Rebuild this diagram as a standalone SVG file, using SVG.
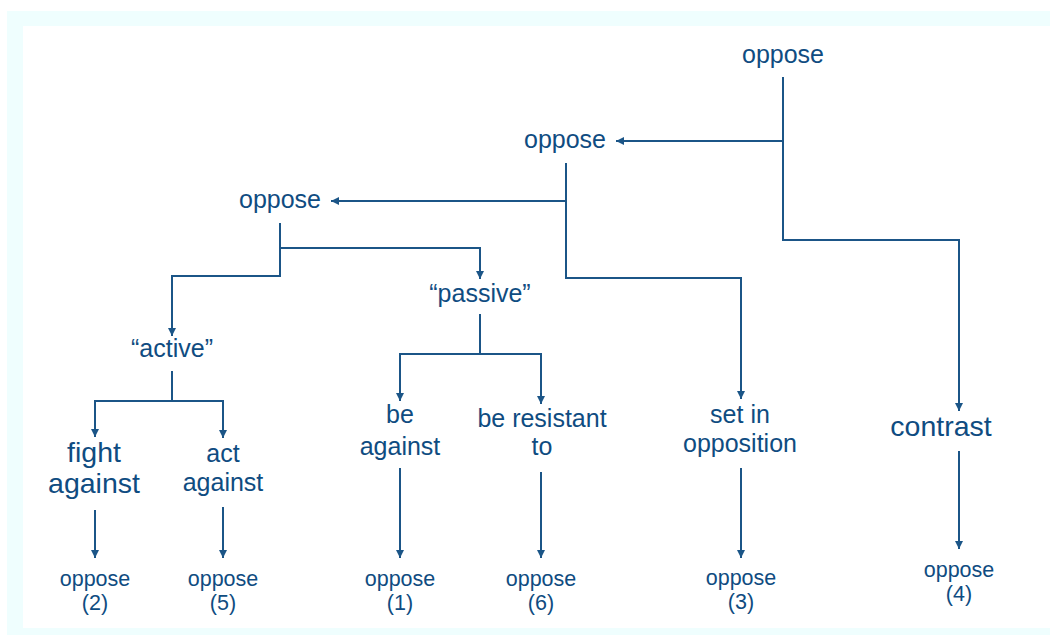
<svg xmlns="http://www.w3.org/2000/svg" width="1050" height="635" viewBox="0 0 1050 635">
  <style>
    .lbl { font-family: "Liberation Sans", Arial, sans-serif; fill: #0f4c81; text-anchor: middle; }
    .f25 { font-size: 25px; }
    .f28 { font-size: 28.5px; }
    .f21 { font-size: 21.5px; }
    .wire { fill: none; stroke: #1b5587; stroke-width: 2; }
  </style>
  <defs>
    <marker id="head" viewBox="0 0 10 10" refX="10" refY="5" markerUnits="userSpaceOnUse" markerWidth="9" markerHeight="8" orient="auto">
      <path d="M0,0 L10,5 L0,10 z" fill="#1b5587"/>
    </marker>
  </defs>

  <!-- frame -->
  <rect x="7" y="11" width="1043" height="624" fill="#effefe"/>
  <rect x="23" y="26" width="1027" height="602" fill="#ffffff"/>

  <!-- connectors -->
  <g id="connectors" class="wire">
    <path d="M783,77 V240 H959 V411" marker-end="url(#head)"/>
    <path d="M783,141 H616" marker-end="url(#head)"/>
    <path d="M566,163 V278 H741 V399" marker-end="url(#head)"/>
    <path d="M566,201 H331" marker-end="url(#head)"/>
    <path d="M280,223 V276 H172 V336" marker-end="url(#head)"/>
    <path d="M280,248 H480 V279" marker-end="url(#head)"/>
    <path d="M480,314 V354 H400 V401" marker-end="url(#head)"/>
    <path d="M480,354 H541 V404" marker-end="url(#head)"/>
    <path d="M172,371 V401 H95 V437" marker-end="url(#head)"/>
    <path d="M172,401 H223 V438" marker-end="url(#head)"/>
    <path d="M95,510 V558" marker-end="url(#head)"/>
    <path d="M223,507 V558" marker-end="url(#head)"/>
    <path d="M400,468 V558" marker-end="url(#head)"/>
    <path d="M541,472 V558" marker-end="url(#head)"/>
    <path d="M741,468 V558" marker-end="url(#head)"/>
    <path d="M959,451 V549" marker-end="url(#head)"/>
  </g>

  <!-- nodes -->
  <g id="n-root"><text class="lbl f25" x="783" y="63">oppose</text></g>
  <g id="n-oppose2"><text class="lbl f25" x="565" y="148">oppose</text></g>
  <g id="n-oppose3"><text class="lbl f25" x="280" y="208">oppose</text></g>
  <g id="n-passive"><text class="lbl f25" x="480" y="302">“passive”</text></g>
  <g id="n-active"><text class="lbl f25" x="172" y="357">“active”</text></g>

  <g id="n-fight"><text class="lbl f28" x="94" y="462">fight<tspan x="94" y="493">against</tspan></text></g>
  <g id="n-act"><text class="lbl f25" x="223" y="462">act<tspan x="223" y="491">against</tspan></text></g>
  <g id="n-be"><text class="lbl f25" x="400" y="423">be<tspan x="400" y="455">against</tspan></text></g>
  <g id="n-resist"><text class="lbl f25" x="542" y="427">be resistant<tspan x="542" y="455">to</tspan></text></g>
  <g id="n-set"><text class="lbl f25" x="740" y="423">set in<tspan x="740" y="452">opposition</tspan></text></g>
  <g id="n-contrast"><text class="lbl f28" x="941" y="436">contrast</text></g>

  <g id="n-o2"><text class="lbl f21" x="95" y="586">oppose<tspan x="95" y="610">(2)</tspan></text></g>
  <g id="n-o5"><text class="lbl f21" x="223" y="586">oppose<tspan x="223" y="610">(5)</tspan></text></g>
  <g id="n-o1"><text class="lbl f21" x="400" y="586">oppose<tspan x="400" y="610">(1)</tspan></text></g>
  <g id="n-o6"><text class="lbl f21" x="541" y="586">oppose<tspan x="541" y="610">(6)</tspan></text></g>
  <g id="n-o3"><text class="lbl f21" x="741" y="585">oppose<tspan x="741" y="609">(3)</tspan></text></g>
  <g id="n-o4"><text class="lbl f21" x="959" y="577">oppose<tspan x="959" y="601">(4)</tspan></text></g>
</svg>
